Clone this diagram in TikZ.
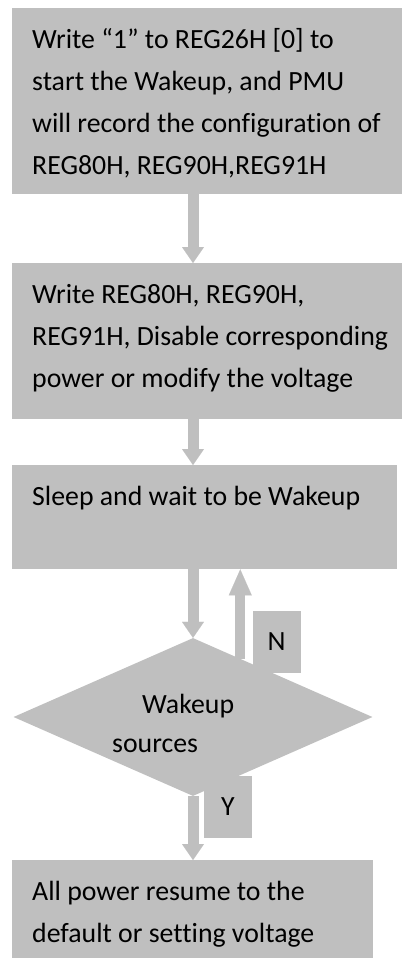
\documentclass[tikz,border=0pt]{standalone}
\usepackage{fontspec}
\setmainfont{Carlito}[Ligatures=NoCommon]
\usetikzlibrary{positioning,arrows.meta,calc,shapes.geometric}
\definecolor{boxgray}{HTML}{BFBFBF}
\newcommand{\flowfont}{\fontsize{27.8}{42}\selectfont}
% top aligned text in a fixed size box
\newcommand{\boxtext}[3]{\parbox[c][#2][t]{#1}{\raggedright\leftskip=20pt\rule{0pt}{40pt}#3}}

\begin{document}
\begin{tikzpicture}[x=1pt, y=-1pt, font=\flowfont,
          stepbox/.style={fill=boxgray, inner sep=0pt, anchor=north west},
          flow/.style={draw=boxgray, line width=11pt,
                       -{Triangle[width=22pt, length=16pt, line width=0.01pt]}},
          back/.style={draw=boxgray, line width=10pt,
                       -{Triangle[width=23pt, length=26pt, line width=0.01pt]}},
          tag/.style={fill=boxgray, inner sep=0pt, minimum width=48pt, minimum height=62pt}]
        \useasboundingbox (0,0) rectangle (402,958);
        % the steps
        \node[stepbox] (b1) at (12,8) {\boxtext{390pt}{186pt}{Write “1” to REG26H [0] to\\
             start the Wakeup, and PMU\\will record the configuration of\\REG80H, REG90H,REG91H}};
        \node[stepbox] (b2) at (12,263) {\boxtext{390pt}{156pt}{Write REG80H, REG90H,\\
             REG91H, Disable corresponding\\power or modify the voltage}};
        \node[stepbox] (b3) at (12,465) {\boxtext{385pt}{104pt}{Sleep and wait to be Wakeup}};
        % decision
        \node[diamond, fill=boxgray, inner sep=0pt, minimum width=359pt, minimum height=158pt]
             (dec) at (193,717) {};
        \node[inner sep=0pt, anchor=base west] (dectext) at (112,713)
             {\parbox[t]{150pt}{\fontsize{27.8}{39}\selectfont\hspace*{30pt}Wakeup\\sources}};
        \node[stepbox] (b4) at (12,860) {\boxtext{361pt}{98pt}{All power resume to the\\
             default or setting voltage}};
        % answers
        \node[tag] (no) at (276.5,641.5) {N};
        \node[tag] (yes) at (228,807) {Y};
        % arrows down the middle
        \coordinate (spine) at (193,0);
        \draw[flow] (b1.south -| spine) -- (b2.north -| spine);
        \draw[flow] (b2.south -| spine) -- (b3.north -| spine);
        \draw[flow] (b3.south -| spine) -- (dec.north);
        \draw[flow] (dec.south) -- (b4.north -| spine);
        % back to sleep
        \coordinate (nfoot) at ($(dec.north)!0.263!(dec.east)$);
        \draw[back] (nfoot) -- (nfoot |- b3.south);
      \end{tikzpicture}
\end{document}
